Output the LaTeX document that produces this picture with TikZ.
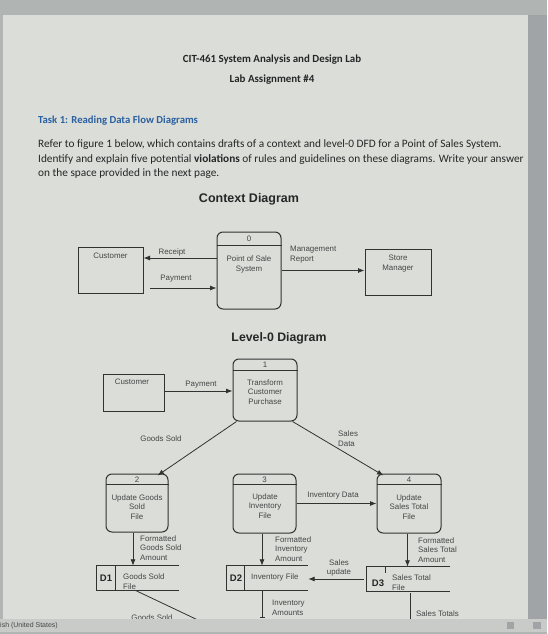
\documentclass[tikz,border=0pt]{standalone}
\usepackage{fontspec}
\setmainfont{Carlito}
\newfontfamily\arialfont{Liberation Sans}
\usetikzlibrary{arrows.meta,positioning}

\definecolor{framegrey}{RGB}{176,180,179}
\definecolor{sidegrey}{RGB}{160,164,166}
\definecolor{pagegrey}{RGB}{219,221,217}
\definecolor{bargrey}{RGB}{200,203,200}
\definecolor{inkgrey}{RGB}{38,38,38}
\definecolor{linegrey}{RGB}{50,50,50}
\definecolor{dfdgrey}{RGB}{70,70,70}
\definecolor{taskblue}{RGB}{42,96,160}

\tikzset{
	doc/.style={text=inkgrey, inner sep=0pt},
	dfd/.style={font=\arialfont\fontsize{7.9}{9.8}\selectfont, text=dfdgrey, inner sep=0pt},
	entity/.style={draw=linegrey, line width=1pt, inner sep=0pt},
	proc/.style={draw=linegrey, line width=1pt, rounded corners=6pt, inner sep=0pt},
	flow/.style={-{Latex[length=6.5pt,width=5pt]}, line width=0.8pt, draw=linegrey},
	storeline/.style={line width=1pt, draw=linegrey},
	storeid/.style={font=\arialfont\bfseries\fontsize{9.5}{11}\selectfont, text=inkgrey, inner sep=0pt}
}

\begin{document}
\begin{tikzpicture}[x=1pt,y=-1pt]

	% screen, page and status bar
	\useasboundingbox (0,0) rectangle (547,634);
	\fill[framegrey] (0,0) rectangle (547,634);
	\fill[sidegrey] (528,15) rectangle (547,619);
	\fill[pagegrey] (3,15) rectangle (528,619);

	% heading and task text
	\node[doc, font=\bfseries\fontsize{10.9}{12}\selectfont] (title) at (272,60) {CIT-461 System Analysis and Design Lab};
	\node[doc, font=\bfseries\fontsize{10.9}{12}\selectfont] (lab) at (272,80) {Lab Assignment \#4};
	\node[doc, anchor=west, text=taskblue, font=\bfseries\fontsize{10.7}{12}\selectfont] (task) at (38,121) {Task 1: Reading Data Flow Diagrams};
	\node[doc, anchor=west, align=left, font=\fontsize{11.3}{14.5}\selectfont] (intro) at (38,159.5) {Refer to figure 1 below, which contains drafts of a context and level-0 DFD for a Point of Sales System.\\Identify and explain five potential \textbf{violations} of rules and guidelines on these diagrams. Write your answer\\on the space provided in the next page.};

	% context diagram
	\node[doc, font=\arialfont\bfseries\fontsize{12.5}{14}\selectfont] (ctxtitle) at (249,199) {Context Diagram};

	\node[entity, minimum width=65pt, minimum height=46pt] (cust) at (110.5,270) {};
	\node[dfd] (custtxt) at (110.5,256) {Customer};
	\node[proc, minimum width=64pt, minimum height=77pt] (p0) at (249,270.5) {};
	\draw[storeline] ([yshift=-14pt]p0.north west) -- ([yshift=-14pt]p0.north east);
	\node[dfd] (p0num) at (249,239) {0};
	\node[dfd, align=center] (p0txt) at (249,264.5) {Point of Sale\\System};
	\node[entity, minimum width=66pt, minimum height=46pt] (mgr) at (398,272) {};
	\node[dfd, align=center] (mgrtxt) at (398,263.5) {Store\\Manager};

	\coordinate (payfree) at (150,288);
	\draw[flow] ([yshift=12.5pt]p0.west) -- ([yshift=12.5pt]p0.west -| cust.east);
	\draw[flow] (payfree) -- (payfree -| p0.west);
	\draw[flow] (p0.east) -- (p0.east -| mgr.west);
	\node[dfd] (receipt) at (172,252) {Receipt};
	\node[dfd] (payment) at (176,279) {Payment};
	\node[dfd, anchor=west, align=left] (mreport) at (290,254.5) {Management\\Report};

	% level-0 diagram
	\node[doc, font=\arialfont\bfseries\fontsize{12.3}{14}\selectfont] (lvltitle) at (279,338) {Level-0 Diagram};

	\node[entity, minimum width=61pt, minimum height=37pt] (cust2) at (133.5,392.5) {};
	\node[dfd] (cust2txt) at (132,382) {Customer};

	\node[proc, minimum width=64pt, minimum height=62pt] (p1) at (265,390) {};
	\draw[storeline] ([yshift=-12pt]p1.north west) -- ([yshift=-12pt]p1.north east);
	\node[dfd] (p1num) at (265,365) {1};
	\node[dfd, align=center] (p1txt) at (265,392) {Transform\\Customer\\Purchase};

	\node[proc, minimum width=62pt, minimum height=58pt] (p2) at (137,503) {};
	\draw[storeline] ([yshift=-11pt]p2.north west) -- ([yshift=-11pt]p2.north east);
	\node[dfd] (p2num) at (137,480) {2};
	\node[dfd, align=center] (p2txt) at (137,507) {Update Goods\\Sold\\File};

	\node[proc, minimum width=63pt, minimum height=59pt] (p3) at (264.5,503.5) {};
	\draw[storeline] ([yshift=-11pt]p3.north west) -- ([yshift=-11pt]p3.north east);
	\node[dfd] (p3num) at (264.5,480) {3};
	\node[dfd, align=center] (p3txt) at (265,506) {Update\\Inventory\\File};

	\node[proc, minimum width=64pt, minimum height=59pt] (p4) at (409,503.5) {};
	\draw[storeline] ([yshift=-11pt]p4.north west) -- ([yshift=-11pt]p4.north east);
	\node[dfd] (p4num) at (409,480) {4};
	\node[dfd, align=center] (p4txt) at (409,507) {Update\\Sales Total\\File};

	% data stores
	\node[minimum width=82pt, minimum height=24pt, inner sep=0pt] (d1) at (138,578) {};
	\draw[storeline] (d1.north east) -- (d1.north west) -- (d1.south west) -- (d1.south east);
	\draw[storeline] ([xshift=19pt]d1.north west) -- ([xshift=19pt]d1.south west);
	\node[storeid] (d1id) at (106,578) {D1};
	\node[dfd, anchor=west, align=left] (d1txt) at (123,582) {Goods Sold\\File};

	\node[minimum width=81pt, minimum height=24pt, inner sep=0pt] (d2) at (267.5,578) {};
	\draw[storeline] (d2.north east) -- (d2.north west) -- (d2.south west) -- (d2.south east);
	\draw[storeline] ([xshift=18pt]d2.north west) -- ([xshift=18pt]d2.south west);
	\node[storeid] (d2id) at (236,578) {D2};
	\node[dfd, anchor=west] (d2txt) at (251,577) {Inventory File};

	\node[minimum width=83pt, minimum height=24pt, inner sep=0pt] (d3) at (408.5,579) {};
	\draw[storeline] (d3.north east) -- (d3.north west) -- (d3.south west) -- (d3.south east);
	\draw[storeline] ([xshift=19pt]d3.north west) -- ([xshift=19pt,yshift=-6pt]d3.north west);
	\node[storeid] (d3id) at (378,583) {D3};
	\node[dfd, anchor=west, align=left] (d3txt) at (392,583) {Sales Total\\File};

	% flows
	\draw[flow] (cust2.east |- 0,391) -- (p1.west |- 0,391);
	\node[dfd] (pay2) at (201,385) {Payment};

	\draw[flow] ([xshift=4pt]p1.south west) -- ([xshift=-11pt,yshift=-2pt]p2.north east);
	\node[dfd] (goods) at (161,439) {Goods Sold};
	\draw[flow] ([xshift=-5pt]p1.south east) -- ([xshift=7pt,yshift=-2pt]p4.north west);
	\node[dfd, anchor=west, align=left] (salesdata) at (338,439) {Sales\\Data};

	\draw[flow] (p3.east) -- (p3.east -| p4.west);
	\node[dfd] (invdata) at (333,496) {Inventory Data};

	\draw[flow] ([xshift=-4pt]p2.south) -- ([xshift=-4pt]p2.south |- d1.north);
	\node[dfd, anchor=west, align=left, font=\arialfont\fontsize{7.9}{9.5}\selectfont] (fgs) at (140,548) {Formatted\\Goods Sold\\Amount};
	\draw[flow] ([xshift=-2.5pt]p3.south) -- ([xshift=-2.5pt]p3.south |- d2.north);
	\node[dfd, anchor=west, align=left, font=\arialfont\fontsize{7.9}{9.5}\selectfont] (fia) at (275,549) {Formatted\\Inventory\\Amount};
	\draw[flow] ([xshift=-1.5pt]p4.south) -- ([xshift=-1.5pt]p4.south |- d3.north);
	\node[dfd, anchor=west, align=left, font=\arialfont\fontsize{7.9}{9.8}\selectfont] (fst) at (418,550) {Formatted\\Sales Total\\Amount};

	\draw[flow] ([xshift=-3pt]d3.west) -- (d3.west -| d2.east);
	\node[dfd, align=center] (supd) at (339,568) {Sales\\update};

	\coordinate (gsfree) at (200,621);
	\draw[line width=0.8pt, draw=linegrey] ([xshift=-3pt]d1.south) -- (gsfree);
	\node[dfd] (gsold) at (152,618) {Goods Sold};

	\coordinate (invfree) at (262,618);
	\draw[-{Bar[width=5pt]}, line width=0.8pt, draw=linegrey] (d2.south -| invfree) -- (invfree);
	\node[dfd, anchor=west, align=left] (invam) at (272,608) {Inventory\\Amounts};

	\coordinate (stfree) at (410,621);
	\draw[line width=0.8pt, draw=linegrey] ([yshift=-2pt]d3.south -| stfree) -- (stfree);
	\node[dfd, anchor=west] (stotals) at (416,614) {Sales Totals};

	% status bar
	\fill[bargrey] (0,619) rectangle (547,634);
	\fill[framegrey] (0,632) rectangle (547,634);
	\node[doc, anchor=west, text=dfdgrey, font=\arialfont\fontsize{7}{8}\selectfont] (lang) at (0,625.5) {ish (United States)};
	\fill[sidegrey] (507,622) rectangle (514,629);
	\fill[sidegrey] (533,622) rectangle (541,629);
\end{tikzpicture}
\end{document}
